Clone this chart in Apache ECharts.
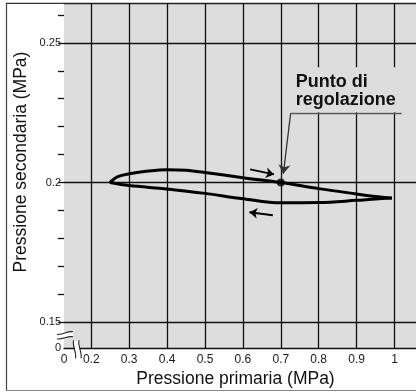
<!DOCTYPE html>
<html>
<head>
<meta charset="utf-8">
<script src="https://cdn.jsdelivr.net/npm/echarts@6/dist/echarts.min.js"></script>
<style>
  html, body { margin: 0; padding: 0; background: #ffffff; }
  #chart { width: 416px; height: 392px; }
</style>
</head>
<body>
<div id="chart"></div>
<script>
// Axis extents (both axes are broken near the origin, where "0" is written)
const X_BREAK = 0.128;
const X_MAX = 1.0567;
const Y_BREAK = 0.1406;
const Y_MAX = 0.2643;

// Tick values and their labels
const xTickValues = [0.2, 0.3, 0.4, 0.5, 0.6, 0.7, 0.8, 0.9, 1.0];
const xTickLabels = ['0.2', '0.3', '0.4', '0.5', '0.6', '0.7', '0.8', '0.9', '1'];
const yGridValues = [0.15, 0.2, 0.25];
const yTickLabels = ['0.15', '0.2', '0.25'];
const yMinorTicks = [0.15, 0.16, 0.17, 0.18, 0.19, 0.2, 0.21, 0.22, 0.23, 0.24, 0.25, 0.26];
const originLabel = '0';

// Hysteresis loop: secondary pressure vs primary pressure (MPa)
const upperBranch = [
  [0.249, 0.2000], [0.27, 0.2021], [0.30, 0.2031], [0.35, 0.2041],
  [0.40, 0.2046], [0.45, 0.2044], [0.50, 0.2036], [0.60, 0.2017],
  [0.70, 0.2000], [0.80, 0.1978], [0.90, 0.1959], [0.95, 0.1950],
  [0.993, 0.1944]
];
const lowerBranch = [
  [0.249, 0.2000], [0.30, 0.1989], [0.40, 0.1977], [0.50, 0.1961],
  [0.60, 0.1942], [0.70, 0.1927], [0.80, 0.1928], [0.90, 0.1936],
  [0.95, 0.1941], [0.993, 0.1944]
];

// Set point and annotations
const setPoint = [0.7, 0.2];
const arrowRising = [[0.619, 0.2047], [0.682, 0.2029]];
const arrowFalling = [[0.679, 0.1883], [0.617, 0.1893]];
const leaderPath = [[1.019, 0.2248], [0.726, 0.2248], [0.7066, 0.2031]];
const calloutLines = ['Punto di', 'regolazione'];

const FONT = '"Liberation Sans", Arial, Helvetica, sans-serif';
const INK = '#111111';
const PLOT_BG = '#dddddd';

function labelFor(v, values, labels, breakValue) {
  if (Math.abs(v - breakValue) < 1e-6) return originLabel;
  for (let i = 0; i < values.length; i++) {
    if (Math.abs(v - values[i]) < 1e-6) return labels[i];
  }
  return '';
}

const chart = echarts.init(document.getElementById('chart'), null, { renderer: 'canvas' });

const gridLines = []
  .concat(xTickValues.map(v => ({ xAxis: v })))
  .concat(yGridValues.map(v => ({ yAxis: v })));

const option = {
  animation: false,
  backgroundColor: '#ffffff',
  grid: {
    left: 64, right: 0, top: 3, bottom: 43.7,
    show: true, backgroundColor: PLOT_BG, borderWidth: 0
  },
  xAxis: [{
    type: 'value', min: X_BREAK, max: X_MAX,
    splitLine: { show: false },
    axisLine: { show: true, onZero: false, lineStyle: { color: INK, width: 1.4 } },
    axisTick: { show: false },
    axisLabel: {
      customValues: [X_BREAK].concat(xTickValues),
      formatter: v => labelFor(v, xTickValues, xTickLabels, X_BREAK),
      fontFamily: FONT, fontSize: 12, color: '#1a1a1a', margin: 5
    }
  }, {
    type: 'value', min: X_BREAK, max: X_MAX, position: 'top',
    splitLine: { show: false },
    axisLine: { show: true, onZero: false, lineStyle: { color: '#222', width: 1.4 } },
    axisTick: { show: false }, axisLabel: { show: false }
  }],
  yAxis: [{
    type: 'value', min: Y_BREAK, max: Y_MAX,
    splitLine: { show: false },
    axisLine: { show: false },
    axisTick: {
      show: true, inside: false, length: 6,
      customValues: yMinorTicks,
      lineStyle: { color: '#111', width: 1.3 }
    },
    axisLabel: {
      customValues: [Y_BREAK].concat(yGridValues),
      formatter: v => labelFor(v, yGridValues, yTickLabels, Y_BREAK),
      fontFamily: FONT, fontSize: 11, color: '#1a1a1a', margin: 3
    }
  }],
  series: [
    {
      // grid lines of the plot
      type: 'scatter', data: [], silent: true, z: 1,
      markLine: {
        silent: true, symbol: 'none', animation: false,
        label: { show: false },
        lineStyle: { color: INK, width: 1.3, type: 'solid' },
        emphasis: { disabled: true },
        data: gridLines
      }
    },
    {
      type: 'line', data: upperBranch, smooth: 0.35, showSymbol: false, z: 5,
      lineStyle: { color: '#000', width: 3 }, silent: true
    },
    {
      type: 'line', data: lowerBranch, smooth: 0.35, showSymbol: false, z: 5,
      lineStyle: { color: '#000', width: 3 }, silent: true
    },
    {
      // direction arrows and the callout leader
      type: 'scatter', data: [], silent: true, z: 6,
      markLine: {
        silent: true, animation: false,
        label: { show: false },
        emphasis: { disabled: true },
        lineStyle: { type: 'solid', color: '#000', width: 2 },
        data: [
          [{ coord: arrowRising[0], symbol: 'none' },
           { coord: arrowRising[1], symbol: 'arrow', symbolSize: 8,
             lineStyle: { color: '#000', width: 2, type: 'solid' } }],
          [{ coord: arrowFalling[0], symbol: 'none' },
           { coord: arrowFalling[1], symbol: 'arrow', symbolSize: 8,
             lineStyle: { color: '#000', width: 2, type: 'solid' } }],
          [{ coord: leaderPath[0], symbol: 'none' },
           { coord: leaderPath[1], symbol: 'none',
             lineStyle: { color: '#5a5a5a', width: 1.4, type: 'solid' } }],
          [{ coord: leaderPath[1], symbol: 'none' },
           { coord: leaderPath[2], symbol: 'arrow', symbolSize: 9,
             lineStyle: { color: '#333', width: 1.3, type: 'solid' } }]
        ]
      }
    },
    {
      type: 'scatter', data: [setPoint], symbolSize: 8, z: 7, silent: true,
      itemStyle: { color: '#000' }
    }
  ]
};

chart.setOption(option);

// Decorations placed from axis coordinates: frame, titles, callout, axis breaks
const originPx = chart.convertToPixel({ gridIndex: 0 }, [X_BREAK, Y_BREAK]);
const cornerPx = chart.convertToPixel({ gridIndex: 0 }, [X_MAX, Y_MAX]);
const anchorPx = chart.convertToPixel({ gridIndex: 0 }, leaderPath[1]);

const ox = originPx[0], oy = originPx[1];
const plotTop = cornerPx[1];

function wave(x1, y1, x2, y2, amp) {
  // small S-shaped stroke from (x1,y1) to (x2,y2)
  const dx = x2 - x1, dy = y2 - y1;
  const nx = -dy, ny = dx;
  const len = Math.sqrt(nx * nx + ny * ny) || 1;
  const px = nx / len * amp, py = ny / len * amp;
  return {
    x1: x1, y1: y1, x2: x2, y2: y2,
    cpx1: x1 + dx / 3 + px, cpy1: y1 + dy / 3 + py,
    cpx2: x1 + 2 * dx / 3 - px, cpy2: y1 + 2 * dy / 3 - py
  };
}

chart.setOption({
  graphic: [
    // outer frame
    { type: 'line', z: 50, shape: { x1: 6.5, y1: plotTop, x2: 6.5, y2: 390.5 },
      style: { stroke: '#444', lineWidth: 1.2 } },
    { type: 'line', z: 50, shape: { x1: 6, y1: 390.5, x2: 416, y2: 390.5 },
      style: { stroke: '#8a8a8a', lineWidth: 1.2 } },
    { type: 'line', z: 50, shape: { x1: 6, y1: plotTop + 0.3, x2: ox, y2: plotTop + 0.3 },
      style: { stroke: '#333', lineWidth: 1.2 } },

    // axis titles
    { type: 'text', z: 50, x: 235.5, y: 379,
      style: { text: 'Pressione primaria (MPa)', font: '17.5px ' + FONT,
        fill: '#111', align: 'center', verticalAlign: 'middle' } },
    { type: 'text', z: 50, x: 21.5, y: 162, rotation: Math.PI / 2,
      style: { text: 'Pressione secondaria (MPa)', font: '17.5px ' + FONT,
        fill: '#111', align: 'center', verticalAlign: 'middle' } },

    // callout box over the grid lines
    { type: 'rect', z: 40, shape: { x: anchorPx[0] + 2, y: anchorPx[1] - 46, width: 122, height: 45 },
      style: { fill: PLOT_BG } },
    { type: 'text', z: 41, x: anchorPx[0] + 5, y: anchorPx[1] - 40.5,
      style: { text: calloutLines.join('\n'), font: 'bold 18px ' + FONT,
        lineHeight: 18.5, fill: '#111', align: 'left', verticalAlign: 'top' } },

    // y-axis break
    { type: 'polygon', z: 45, shape: { points: [[ox - 6, oy - 15], [ox + 9, oy - 17], [ox + 9, oy - 11], [ox - 6, oy - 9]] },
      style: { fill: '#ffffff' } },
    { type: 'bezierCurve', z: 46, shape: wave(ox - 7, oy - 14, ox + 9, oy - 16.5, 2),
      style: { stroke: '#222', lineWidth: 1.1, fill: null } },
    { type: 'bezierCurve', z: 46, shape: wave(ox - 7, oy - 9.5, ox + 9, oy - 11.5, 2),
      style: { stroke: '#222', lineWidth: 1.1, fill: null } },

    // x-axis break
    { type: 'polygon', z: 45, shape: { points: [[ox + 10, oy - 7], [ox + 15, oy - 7], [ox + 17, oy + 8], [ox + 12, oy + 8]] },
      style: { fill: '#ffffff' } },
    { type: 'bezierCurve', z: 46, shape: wave(ox + 9.5, oy - 8, ox + 11.5, oy + 10, 2),
      style: { stroke: '#222', lineWidth: 1.1, fill: null } },
    { type: 'bezierCurve', z: 46, shape: wave(ox + 15, oy - 8, ox + 17, oy + 10, 2),
      style: { stroke: '#222', lineWidth: 1.1, fill: null } }
  ]
});
</script>
</body>
</html>
